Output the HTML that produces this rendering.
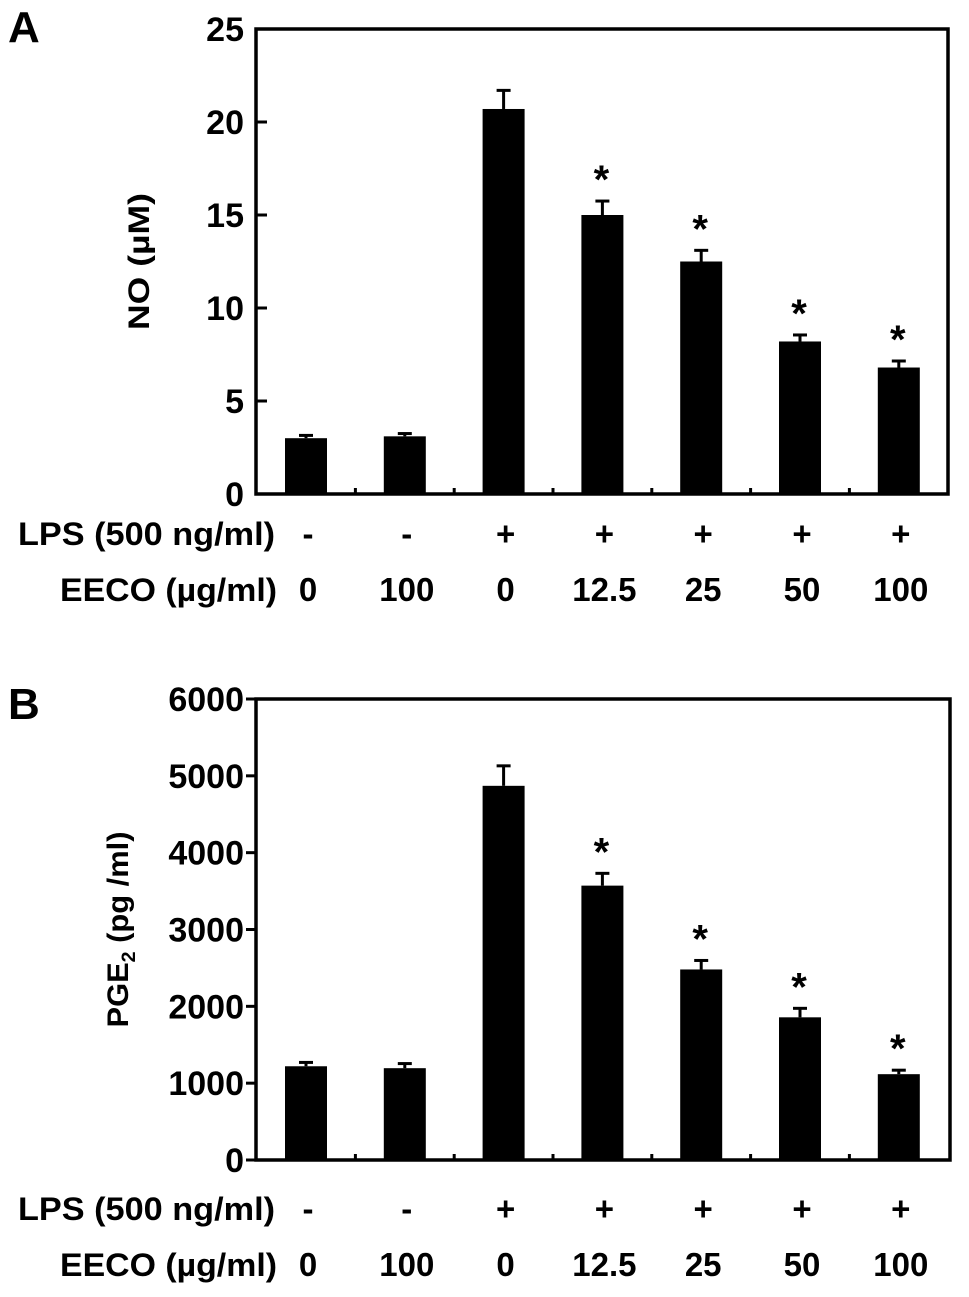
<!DOCTYPE html>
<html><head><meta charset="utf-8"><style>
body{margin:0;background:#fff}
svg text{font-family:"Liberation Sans",Arial,sans-serif;font-weight:bold;fill:#000}
</style></head><body>
<svg id="c" width="969" height="1292" xmlns="http://www.w3.org/2000/svg"></svg>
<script>
const lpsLabels=["-","-","+","+","+","+","+"];
const eecoLabels=["0","100","0","12.5","25","50","100"];
const noValues=[3.0,3.1,20.7,15.0,12.5,8.2,6.8];
const noErrors=[0.15,0.15,1.0,0.75,0.6,0.35,0.35];
const noSig=[false,false,false,true,true,true,true];
const noTicks=[0,5,10,15,20,25];
const pgeValues=[1220,1195,4870,3571,2480,1857,1117];
const pgeErrors=[50,60,260,160,117,117,52];
const pgeSig=[false,false,false,true,true,true,true];
const pgeTicks=[0,1000,2000,3000,4000,5000,6000];

const svg=document.getElementById('c');
const NS="http://www.w3.org/2000/svg";
function mk(tag,attrs,parent){const e=document.createElementNS(NS,tag);for(const k in attrs)e.setAttribute(k,attrs[k]);(parent||svg).appendChild(e);return e;}
function txt(s,attrs,parent){const e=mk('text',attrs,parent);e.textContent=s;return e;}

function panel(o){
  const g=mk('g',{});
  
  
  const y=v=>o.y0-(v/o.max)*(o.y0-o.y1);
  const x=i=>o.x0+50+i*98.8;
  txt(o.letter,{x:8,y:o.letterY,'font-size':44});
  const frame=mk('rect',{x:o.x0,y:o.y1,width:o.xr-o.x0,height:o.y0-o.y1,fill:'none',stroke:'#000','stroke-width':3.5},g);
  
  
  o.ticks.forEach(t=>{
    const ty=y(t);
    mk('line',{x1:o.tickIn?o.x0:o.x0-10,x2:o.tickIn?o.x0+11:o.x0,y1:ty,y2:ty,stroke:'#000','stroke-width':3},g);
    const l=txt(String(t),{x:o.x0-12,y:ty+12,'font-size':34,'text-anchor':'end'},g);
    
    
  });
  for(let i=0;i<6;i++){const tx=(x(i)+x(i+1))/2;mk('line',{x1:tx,x2:tx,y1:o.y0,y2:o.y0-6,stroke:'#000','stroke-width':3},g);}
  const yt=txt(o.title,{transform:`translate(${o.titleX},${(o.y0+o.y1)/2}) rotate(-90)`,'font-size':30,'text-anchor':'middle',textLength:o.titleLen,lengthAdjust:'spacingAndGlyphs'},g);
  if(o.sub){yt.textContent='';const a=mk('tspan',{},yt);a.textContent='PGE';const b=mk('tspan',{'font-size':19,dy:7});b.textContent='2';yt.appendChild(b);const c=mk('tspan',{dy:-7});c.textContent=' (pg /ml)';yt.appendChild(c);}
  
  
  o.vals.forEach((v,i)=>{
    const cx=x(i),top=y(v),et=y(v+o.errs[i]);
    const b=mk('rect',{x:cx-21,y:top,width:42,height:o.y0-top,fill:'#000'},g);
    
    
    mk('line',{x1:cx,x2:cx,y1:top,y2:et,stroke:'#000','stroke-width':3},g);
    mk('line',{x1:cx-7,x2:cx+7,y1:et,y2:et,stroke:'#000','stroke-width':3},g);
    if(o.sig[i]){const s=txt('*',{x:cx-1,y:et-8,'font-size':40,'text-anchor':'middle'},g);
      
      }
    const l1=txt(lpsLabels[i],{x:cx+2,y:o.row1,'font-size':33,'text-anchor':'middle'},g);
    
    
    const l2=txt(eecoLabels[i],{x:cx+2,y:o.row2,'font-size':33,'text-anchor':'middle'},g);
    
    
  });
  const r1=txt('LPS (500 ng/ml)',{x:18,y:o.row1,'font-size':32,textLength:257,lengthAdjust:'spacingAndGlyphs'},g);
  
  
  const r2=txt('EECO (µg/ml)',{x:60,y:o.row2,'font-size':32,textLength:217,lengthAdjust:'spacingAndGlyphs'},g);
  
  
}
panel({name:'panel-a-no',letter:'A',letterY:42,x0:256,xr:948,y0:494,y1:29,max:25,ticks:noTicks,tickIn:true,title:'NO (µM)',titleLen:137,titleX:149,vals:noValues,errs:noErrors,sig:noSig,row1:545,row2:601});
panel({name:'panel-b-pge2',letter:'B',letterY:719,x0:256,xr:950,y0:1160,y1:699,max:6000,ticks:pgeTicks,tickIn:false,title:'PGE2 (pg /ml)',titleLen:196,sub:true,titleX:128,vals:pgeValues,errs:pgeErrors,sig:pgeSig,row1:1220,row2:1276});
</script>
</body></html>
